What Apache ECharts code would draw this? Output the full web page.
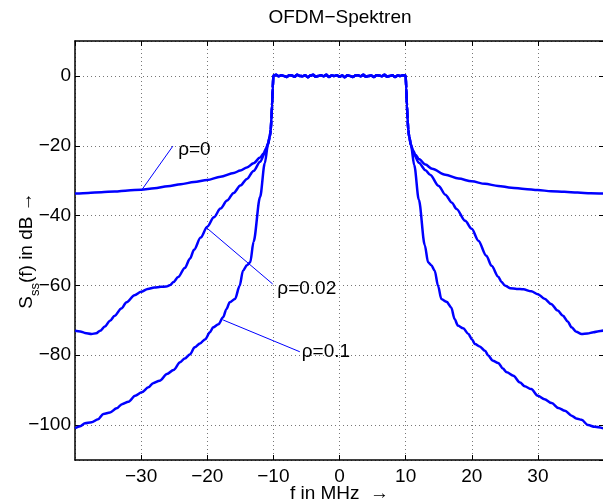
<!DOCTYPE html>
<html><head><meta charset="utf-8">
<script src="https://cdn.jsdelivr.net/npm/echarts@6/dist/echarts.min.js"></script>
<style>html,body{margin:0;padding:0;background:#fff}#c{width:603px;height:503px}</style>
</head><body><div id="c"></div>
<script>
// ---- data (f in MHz, S in dB) ----
const flatTop = [[-10.0,0.1],[-9.6,0.3],[-9.2,-0.1],[-8.8,0.2],[-8.4,0.0],[-8.0,-0.3],[-7.6,0.2],[-7.2,0.1],[-6.8,-0.2],[-6.4,0.3],
[-6.0,0.0],[-5.6,-0.1],[-5.2,0.2],[-4.8,-0.4],[-4.4,0.1],[-4.0,0.3],[-3.6,-0.2],[-3.2,0.0],[-2.8,0.2],[-2.4,-0.1],
[-2.0,0.3],[-1.6,-0.3],[-1.2,0.1],[-0.8,0.0],[-0.4,0.2],[0.0,-0.2],[0.4,0.1],[0.8,-0.4],[1.2,0.2],[1.6,0.0],
[2.0,-0.3],[2.4,0.1],[2.8,0.2],[3.2,-0.1],[3.6,0.3],[4.0,-0.2],[4.4,0.0],[4.8,0.1],[5.2,-0.3],[5.6,0.2],
[6.0,0.1],[6.4,-0.1],[6.8,0.3],[7.2,-0.2],[7.6,0.0],[8.0,0.2],[8.4,-0.3],[8.8,0.1],[9.2,0.0],[9.6,0.2],[10.0,0.1]];

const rho0Left = [[-40,-33.7],[-38,-33.5],[-36,-33.3],[-34,-33.1],[-32,-32.8],[-30,-32.6],[-28,-32.2],[-26,-31.6],[-24,-31.0],[-22,-30.4],[-20,-29.8],[-18,-28.9],[-16,-27.8],[-15,-27.1],[-14,-26.2],[-13,-25.0],[-12,-23.4],[-11.5,-22.2],[-11.1,-20.8],[-10.8,-19.2],[-10.55,-17.3],[-10.4,-15.5],[-10.3,-12.5],[-10.2,-8.5],[-10.1,-3.5]];
const rho0Right = [[10.1,-3.5],[10.2,-8.5],[10.3,-12.5],[10.4,-15.5],[10.55,-17.4],[10.8,-19.6],[11.1,-21.3],[11.5,-22.6],[12,-23.8],[13,-25.4],[14,-26.6],[16,-28.3],[18,-29.4],[20,-30.2],[22,-30.9],[24,-31.5],[26,-32.0],[28,-32.4],[30,-32.7],[32,-33.0],[34,-33.2],[36,-33.4],[38,-33.6],[40,-33.7]];

const rho002Left = [[-40,-73.0],[-39.2,-73.2],[-38.5,-73.6],[-37.5,-73.9],[-36.8,-73.7],[-36.2,-73.0],[-35.5,-71.8],[-34.7,-70.1],[-34,-68.7],[-33,-66.6],[-32.2,-64.8],[-31,-62.8],[-30,-61.8],[-29,-61.0],[-28,-60.6],[-27,-60.4],[-26.2,-60.3],[-25.6,-59.9],[-25.1,-59.0],[-24.4,-57.6],[-23.4,-55.0],[-22.6,-52.3],[-22,-49.8],[-21,-46.3],[-20,-43.2],[-19,-40.5],[-18,-38.0],[-17,-35.7],[-16,-33.5],[-15,-31.4],[-14,-29.5],[-13,-27.2],[-12,-24.6],[-11.3,-22.2],[-10.8,-19.6],[-10.55,-17.4],[-10.4,-15.5],[-10.3,-12.5],[-10.2,-8.5],[-10.1,-3.5]];
const rho002Right = [[10.1,-3.5],[10.2,-8.5],[10.3,-12.5],[10.4,-15.5],[10.55,-17.6],[10.8,-19.9],[11.3,-22.6],[12,-24.9],[13,-27.0],[13.7,-28.3],[15,-31.5],[16,-34.0],[17,-36.3],[17.7,-38.1],[19,-41.5],[20,-43.8],[21,-47.2],[22.2,-51.5],[23,-54.4],[24,-57.5],[24.5,-59.0],[25,-60.0],[25.8,-60.8],[26.8,-61.0],[27.8,-61.1],[29,-61.7],[30,-62.5],[31,-63.8],[32,-65.3],[33,-67.2],[33.8,-68.7],[34.5,-70.3],[35.1,-72.0],[35.8,-73.3],[36.6,-73.9],[37.5,-73.8],[38.4,-73.4],[39.2,-73.1],[40,-72.9]];

const rho01Left = [[-40,-100.9],[-39.2,-100.3],[-38.5,-99.5],[-37.5,-99.2],[-36.5,-98.3],[-35.7,-96.8],[-34.7,-96.4],[-33.7,-95.2],[-32.9,-94.0],[-31.9,-93.3],[-30.9,-91.6],[-29.9,-90.6],[-28.9,-89.2],[-28.2,-88.0],[-27.2,-87.3],[-26.1,-85.4],[-25.1,-84.2],[-24.1,-82.0],[-23.4,-80.9],[-22.6,-79.7],[-21.9,-77.7],[-21.1,-76.6],[-20.3,-75.4],[-19.6,-73.4],[-19.1,-72.0],[-18.3,-71.1],[-17.6,-69.1],[-17.1,-66.8],[-16.6,-64.8],[-15.8,-63.9],[-15.1,-60.1],[-14.6,-55.8],[-14.0,-54.2],[-13.5,-53.4],[-13.0,-47.5],[-12.0,-34.6],[-11.3,-25.0],[-10.8,-19.5],[-10.55,-17.4],[-10.4,-15.5],[-10.3,-12.5],[-10.2,-8.5],[-10.1,-3.5]];
const rho01Right = [[10.1,-3.5],[10.2,-8.5],[10.3,-12.5],[10.4,-15.5],[10.55,-17.4],[10.8,-19.8],[11.3,-25.5],[12.0,-35.5],[12.9,-48.5],[13.4,-53.4],[13.9,-54.2],[14.4,-55.8],[14.9,-60.1],[15.4,-63.9],[16.2,-64.7],[16.9,-66.3],[17.4,-69.6],[17.9,-71.5],[18.7,-72.3],[19.5,-73.9],[20.0,-75.4],[20.5,-76.8],[21.2,-77.5],[22.0,-78.7],[22.5,-80.1],[23.2,-81.6],[24.0,-82.2],[24.7,-83.8],[25.3,-84.9],[26.3,-85.9],[27.3,-87.8],[28.0,-88.9],[29.0,-89.7],[30.0,-91.6],[31.0,-92.6],[32.1,-93.7],[33.1,-95.1],[34.1,-95.9],[35.1,-97.3],[35.8,-98.1],[36.6,-98.5],[37.6,-100.0],[38.6,-100.5],[40,-101.0]];

// callouts: line from curve point to label, and label anchor
const calloutLines = [
  [[-30.0,-32.9],[-25.2,-20.1]],
  [[-20.1,-43.5],[-10.1,-59.6]],
  [[-17.6,-69.9],[-6.0,-79.0]]
];
const calloutLabels = [[-24.4,-21.2,'ρ=0'],[-9.4,-61.0,'ρ=0.02'],[-5.7,-79.1,'ρ=0.1']];

const FONT = "'Liberation Sans', Arial, Helvetica, sans-serif";
const FS = 19;
const BLUE = '#0000ff';
const minus = v => String(v).replace('-', '\u2212');

const chart = echarts.init(document.getElementById('c'));
const curve = (name, left, right) => ({
  name, type: 'line', data: left.concat(flatTop, right),
  showSymbol: false, symbol: 'none', smooth: 0.3, smoothMonotone: 'x',
  lineStyle: {color: BLUE, width: 2.5}, z: 5, silent: true
});
const axisBase = {
  axisLine: {show: true, onZero: false, lineStyle: {color: '#000', width: 1.5}},
  axisTick: {show: true, inside: true, length: 5, lineStyle: {color: '#000', width: 1}}
};
chart.setOption({
  animation: false,
  backgroundColor: '#fff',
  textStyle: {fontFamily: FONT},
  title: {text: 'OFDM\u2212Spektren', left: 340, textAlign: 'center', top: 8, padding: 0,
    textStyle: {fontFamily: FONT, fontSize: FS, fontWeight: 'normal', color: '#000'}},
  grid: {left: 75, right: -1, top: 41, bottom: 43, outerBoundsMode: 'none', containLabel: false},
  xAxis: [
    Object.assign({type: 'value', min: -40, max: 40, interval: 10, position: 'bottom',
      axisLabel: {margin: 7, fontSize: FS, color: '#000', fontFamily: FONT, formatter: minus, showMinLabel: false, showMaxLabel: false},
      splitLine: {show: true, lineStyle: {type: [1, 3], color: '#777', width: 1}},
      name: 'f in MHz  \u2192', nameLocation: 'middle', nameGap: 24, nameMoveOverlap: false,
      nameTextStyle: {fontSize: FS, color: '#000', fontFamily: FONT}}, axisBase),
    Object.assign({type: 'value', min: -40, max: 40, interval: 10, position: 'top',
      axisLabel: {show: false}, splitLine: {show: false}}, axisBase)
  ],
  yAxis: [
    Object.assign({type: 'value', min: -110, max: 10, position: 'left',
      axisLabel: {margin: 4, fontSize: FS, color: '#000', fontFamily: FONT, formatter: minus, showMinLabel: false, showMaxLabel: false},
      splitLine: {show: true, lineStyle: {type: [1, 3], color: '#777', width: 1}},
      name: '{a|S}{b|ss}{a|(f) in dB \u2192}', nameLocation: 'middle', nameGap: 33, nameMoveOverlap: false,
      nameTextStyle: {color: '#000', fontFamily: FONT,
        rich: {a: {fontSize: FS, lineHeight: 19, verticalAlign: 'top', color: '#000', fontFamily: FONT},
               b: {fontSize: 13, lineHeight: 25, verticalAlign: 'bottom', color: '#000', fontFamily: FONT}}}}, axisBase),
    Object.assign({type: 'value', min: -110, max: 10, position: 'right',
      axisLabel: {show: false}, splitLine: {show: false}}, axisBase)
  ],
  series: [
    curve('rho0', rho0Left, rho0Right),
    curve('rho002', rho002Left, rho002Right),
    curve('rho01', rho01Left, rho01Right),
    ...calloutLines.map((seg, i) => ({
      name: 'callout' + i, type: 'line', data: seg, showSymbol: false, symbol: 'none',
      lineStyle: {color: BLUE, width: 1}, z: 4, silent: true
    })),
    {
      name: 'labels', type: 'scatter', data: calloutLabels, symbolSize: 0, silent: true,
      itemStyle: {opacity: 1},
      label: {show: true, position: 'right', distance: 0, formatter: p => p.data[2],
        fontSize: FS, color: '#000', opacity: 1, fontFamily: FONT}
    }
  ]
});
</script>
</body></html>
